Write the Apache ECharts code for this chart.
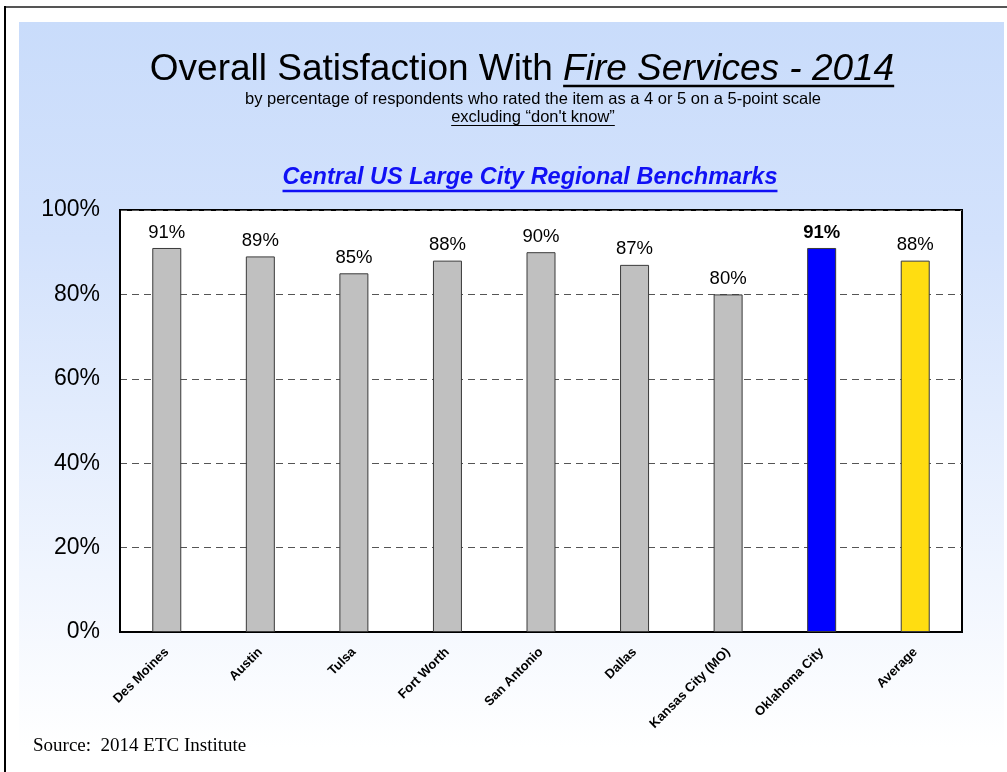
<!DOCTYPE html>
<html>
<head>
<meta charset="utf-8">
<script src="https://cdn.jsdelivr.net/npm/echarts@6/dist/echarts.min.js"></script>
<style>
  html, body { margin: 0; padding: 0; background: #fff; }
  #chart { width: 1007px; height: 772px; }
</style>
</head>
<body>
<div id="chart"></div>
<script>
// Cities compared and their satisfaction share (percent rating 4 or 5)
const cities = ['Des Moines', 'Austin', 'Tulsa', 'Fort Worth', 'San Antonio', 'Dallas', 'Kansas City (MO)', 'Oklahoma City', 'Average'];
const satisfaction = [91, 89, 85, 88, 90, 87, 80, 91, 88];
const yTicks = [0, 20, 40, 60, 80, 100];

const titleMain = 'Overall Satisfaction With ';
const titleFocus = 'Fire Services - 2014';
const subtitleLine1 = 'by percentage of respondents who rated the item as a 4 or 5 on a 5-point scale';
const subtitleLine2 = 'excluding \u201cdon\'t know\u201d';
const benchmarkTitle = 'Central US Large City Regional Benchmarks';
const sourceNote = 'Source:  2014 ETC Institute';

const SANS = 'Liberation Sans, Arial, Helvetica, sans-serif';
const SERIF = 'Liberation Serif, Times New Roman, serif';

const HOME_CITY = 'Oklahoma City';
const AVERAGE = 'Average';

// text width helper for the hand-drawn underlines
const ctx = document.createElement('canvas').getContext('2d');
function textWidth(str, font) { ctx.font = font; return ctx.measureText(str).width; }

const chart = echarts.init(document.getElementById('chart'), null, { renderer: 'canvas' });

// headline: plain part + italic underlined part
const titleSize = 37;
const wMain = textWidth(titleMain, `${titleSize}px ${SANS}`);
const wFocus = textWidth(titleFocus, `italic ${titleSize}px ${SANS}`);
const titleCenter = 522;
const titleLeft = titleCenter - (wMain + wFocus) / 2;
const titleMid = 70;

const subSize = 16.5;
const subCenter = 533;
const wSub2 = textWidth(subtitleLine2, `${subSize}px ${SANS}`);

const benchSize = 23.5;
const benchCenter = 530;
const wBench = textWidth(benchmarkTitle, `italic bold ${benchSize}px ${SANS}`);

function barColor(name) {
  if (name === HOME_CITY) return '#0000ff';
  if (name === AVERAGE) return '#ffdd11';
  return '#c0c0c0';
}

const barData = cities.map((name, i) => ({
  value: satisfaction[i],
  itemStyle: { color: barColor(name) },
  label: name === HOME_CITY ? { fontWeight: 'bold' } : undefined
}));

const option = {
  animation: false,
  backgroundColor: '#ffffff',
  graphic: [
    // background panel with vertical fade
    {
      type: 'rect', z: -10, silent: true,
      shape: { x: 19, y: 22, width: 985, height: 726 },
      style: {
        fill: new echarts.graphic.LinearGradient(0, 0, 0, 1, [
          { offset: 0, color: '#c9dcfb' },
          { offset: 0.3, color: '#d3e2fc' },
          { offset: 1, color: '#ffffff' }
        ])
      }
    },
    // frame lines
    { type: 'line', silent: true, shape: { x1: 4, y1: 7, x2: 1007, y2: 7 }, style: { stroke: '#555', lineWidth: 2 } },
    { type: 'line', silent: true, shape: { x1: 5, y1: 6, x2: 5, y2: 772 }, style: { stroke: '#000', lineWidth: 2 } },
    // headline
    {
      type: 'text', x: titleLeft, y: titleMid,
      style: {
        text: `{a|${titleMain}}{b|${titleFocus}}`,
        verticalAlign: 'middle',
        rich: {
          a: { fontFamily: SANS, fontSize: titleSize, fill: '#000' },
          b: { fontFamily: SANS, fontSize: titleSize, fontStyle: 'italic', fill: '#000' }
        }
      }
    },
    { type: 'line', silent: true, shape: { x1: titleLeft + wMain, y1: 86, x2: titleLeft + wMain + wFocus, y2: 86 }, style: { stroke: '#000', lineWidth: 2.5 } },
    // subtitle lines
    {
      type: 'text', x: subCenter, y: 99,
      style: { text: subtitleLine1, font: `${subSize}px ${SANS}`, fill: '#000', align: 'center', verticalAlign: 'middle' }
    },
    {
      type: 'text', x: subCenter, y: 117,
      style: { text: subtitleLine2, font: `${subSize}px ${SANS}`, fill: '#000', align: 'center', verticalAlign: 'middle' }
    },
    { type: 'line', silent: true, shape: { x1: subCenter - wSub2 / 2, y1: 125.5, x2: subCenter + wSub2 / 2, y2: 125.5 }, style: { stroke: '#000', lineWidth: 1 } },
    // benchmark heading
    {
      type: 'text', x: benchCenter, y: 178,
      style: { text: benchmarkTitle, font: `italic bold ${benchSize}px ${SANS}`, fill: '#1010f5', align: 'center', verticalAlign: 'middle' }
    },
    { type: 'line', silent: true, shape: { x1: benchCenter - wBench / 2, y1: 191, x2: benchCenter + wBench / 2, y2: 191 }, style: { stroke: '#1010f5', lineWidth: 2.5 } },
    // source note
    {
      type: 'text', x: 33, y: 746,
      style: { text: sourceNote, font: `19px ${SERIF}`, fill: '#000', align: 'left', verticalAlign: 'middle' }
    }
  ],
  grid: {
    left: 120, top: 210, width: 842, height: 422,
    show: true, backgroundColor: '#ffffff', borderColor: '#000', borderWidth: 2,
    containLabel: false
  },
  xAxis: {
    type: 'category',
    data: cities,
    axisLine: { show: true, lineStyle: { color: '#000', width: 2 } },
    axisTick: { show: false },
    axisLabel: {
      rotate: 45, margin: 18, interval: 0,
      fontFamily: SANS, fontSize: 13, fontWeight: 'bold', color: '#000'
    },
    splitLine: { show: false }
  },
  yAxis: {
    type: 'value',
    min: yTicks[0], max: yTicks[yTicks.length - 1], interval: yTicks[1] - yTicks[0],
    axisLine: { show: true, lineStyle: { color: '#000', width: 2 } },
    axisTick: { show: false },
    axisLabel: { formatter: '{value}%', margin: 20, fontFamily: SANS, fontSize: 23, color: '#000' },
    splitLine: { show: true, lineStyle: { color: '#555', width: 1, type: [7, 5] } }
  },
  series: [{
    type: 'bar',
    data: barData,
    barWidth: 29,
    itemStyle: { borderColor: '#3a3a3a', borderWidth: 1 },
    label: {
      show: true, position: 'top', distance: 6,
      formatter: p => p.value + '%',
      fontFamily: SANS, fontSize: 18.5, color: '#000'
    }
  }]
};

chart.setOption(option);
</script>
</body>
</html>
